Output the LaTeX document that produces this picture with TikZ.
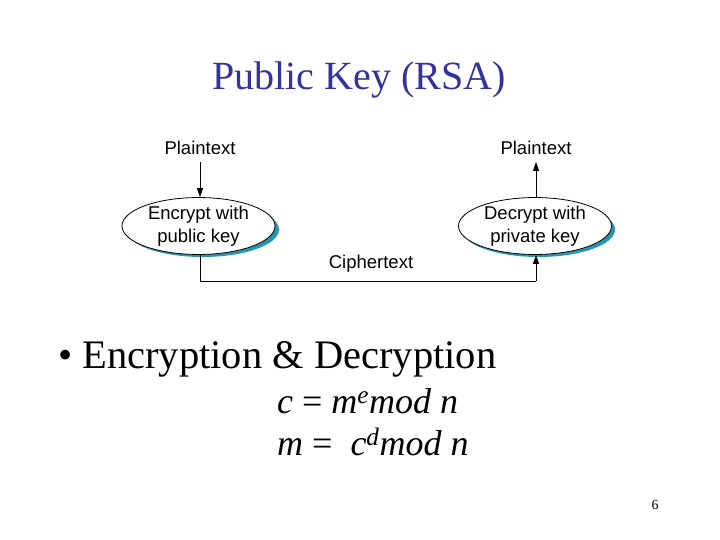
\documentclass[tikz,border=0pt]{standalone}
\usepackage{fontspec}
\setmainfont{Liberation Serif}
\setsansfont{Liberation Sans}
\usetikzlibrary{shapes.geometric,arrows.meta}
\definecolor{titleblue}{RGB}{51,51,160}
\definecolor{shadowteal}{RGB}{40,150,175}
\tikzset{
  lbl/.style={font=\sffamily\fontsize{18.5}{23}\selectfont, inner sep=0pt},
  cryptbox/.style={ellipse, draw=black, thick, fill=white, minimum width=153pt, minimum height=55pt, inner sep=0pt, align=center, font=\sffamily\fontsize{18.5}{23}\selectfont},
  shadowell/.style={ellipse, fill=shadowteal, minimum width=153pt, minimum height=55pt, inner sep=0pt},
  conn/.style={thick, -{Triangle[length=9pt,width=6pt]}},
  plain/.style={thick}
}
\begin{document}
\begin{tikzpicture}[x=1pt,y=-1pt]
\useasboundingbox (0,0) rectangle (720,540);
\fill[white] (0,0) rectangle (720,540);
% title
\node[anchor=base, text=titleblue, font=\fontsize{40}{48}\selectfont, inner sep=0pt] (title) at (359,90) {Public Key (RSA)};
% diagram
\node[lbl] (pl) at (200,148) {Plaintext};
\node[lbl] (pr) at (536,148) {Plaintext};
\node[shadowell] (shl) at (202.5,229.5) {};
\node[shadowell] (shr) at (538.5,229.5) {};
\node[cryptbox] (enc) at (198.5,226) {Encrypt with\\public key};
\node[cryptbox] (dec) at (535,226) {Decrypt with\\private key};
\node[lbl] (ct) at (371,264) {Ciphertext};
\coordinate (plb) at (200,162);
\coordinate (prb) at (536,162);
\coordinate (c1) at (200,281);
\coordinate (c2) at (536,281);
\draw[conn] (plb) -- (enc.north -| plb);
\draw[conn] (dec.north -| prb) -- (prb);
\draw[plain] (enc.south -| c1) -- (c1) -- (c2);
\draw[conn] (c2) -- (dec.south -| c2);
% bullet
\node[anchor=base west, font=\fontsize{40.5}{48}\selectfont, inner sep=0pt] (bul) at (58,368) {\textbullet\ Encryption \& Decryption};
\node[anchor=base west, font=\fontsize{36}{42}\selectfont, inner sep=0pt] (f1) at (277,413) {\textit{c} = \textit{m}\textsuperscript{\textit{e}}\textit{mod n}};
\node[anchor=base west, font=\fontsize{36}{42}\selectfont, inner sep=0pt] (f2) at (277,455) {\textit{m} =\ \ \textit{c}\textsuperscript{\textit{d}}\textit{mod n}};
\node[anchor=base, font=\fontsize{14}{16}\selectfont, inner sep=0pt] (pg) at (655,509) {6};
\end{tikzpicture}
\end{document}
